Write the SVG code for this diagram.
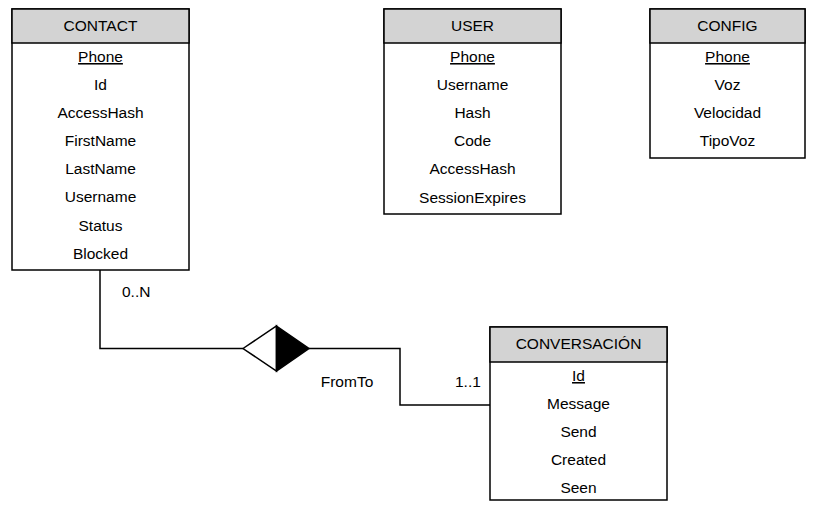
<svg xmlns="http://www.w3.org/2000/svg" width="817" height="505" viewBox="0 0 817 505">
<style>
.box{fill:#fff;stroke:#000;stroke-width:1.5}
.hdr{fill:#d3d3d3;stroke:#000;stroke-width:1.5}
text{font-family:"Liberation Sans",Arial,sans-serif;font-size:15.5px;fill:#000}
.c{text-anchor:middle}
.k{text-decoration:underline}
.ln{fill:none;stroke:#000;stroke-width:1.5}
</style>
<rect width="817" height="505" fill="#fff"/>
<g id="contact">
<rect class="box" x="12" y="9" width="177" height="261"/>
<rect class="hdr" x="12" y="9" width="177" height="34"/>
<text class="c" x="100.5" y="31">CONTACT</text>
<text class="c k" x="100.5" y="62">Phone</text>
<text class="c" x="100.5" y="90">Id</text>
<text class="c" x="100.5" y="118">AccessHash</text>
<text class="c" x="100.5" y="146">FirstName</text>
<text class="c" x="100.5" y="174">LastName</text>
<text class="c" x="100.5" y="202">Username</text>
<text class="c" x="100.5" y="231">Status</text>
<text class="c" x="100.5" y="259">Blocked</text>
</g>
<g id="user">
<rect class="box" x="384" y="9" width="177" height="205"/>
<rect class="hdr" x="384" y="9" width="177" height="34"/>
<text class="c" x="472.5" y="31">USER</text>
<text class="c k" x="472.5" y="62">Phone</text>
<text class="c" x="472.5" y="90">Username</text>
<text class="c" x="472.5" y="118">Hash</text>
<text class="c" x="472.5" y="146">Code</text>
<text class="c" x="472.5" y="174">AccessHash</text>
<text class="c" x="472.5" y="203">SessionExpires</text>
</g>
<g id="config">
<rect class="box" x="650" y="9" width="155" height="149"/>
<rect class="hdr" x="650" y="9" width="155" height="34"/>
<text class="c" x="727.5" y="31">CONFIG</text>
<text class="c k" x="727.5" y="62">Phone</text>
<text class="c" x="727.5" y="90">Voz</text>
<text class="c" x="727.5" y="118">Velocidad</text>
<text class="c" x="727.5" y="146">TipoVoz</text>
</g>
<g id="conversacion">
<rect class="box" x="490" y="327" width="177" height="173"/>
<rect class="hdr" x="490" y="327" width="177" height="35"/>
<text class="c" x="578.5" y="349">CONVERSACIÓN</text>
<text class="c k" x="578.5" y="381">Id</text>
<text class="c" x="578.5" y="409">Message</text>
<text class="c" x="578.5" y="437">Send</text>
<text class="c" x="578.5" y="465">Created</text>
<text class="c" x="578.5" y="493">Seen</text>
</g>
<g id="connectors">
<polyline class="ln" points="100,270 100,348.5 243,348.5"/>
<polyline class="ln" points="309,348.5 400,348.5 400,405 490,405"/>
<polygon points="243,348.5 276.5,326 276.5,371" fill="#fff" stroke="#000" stroke-width="1.5"/>
<polygon points="276.5,326 309,348.5 276.5,371" fill="#000" stroke="#000" stroke-width="1.5"/>
<text x="122" y="297">0..N</text>
<text class="c" x="347" y="387">FromTo</text>
<text x="455" y="387">1..1</text>
</g>
</svg>
